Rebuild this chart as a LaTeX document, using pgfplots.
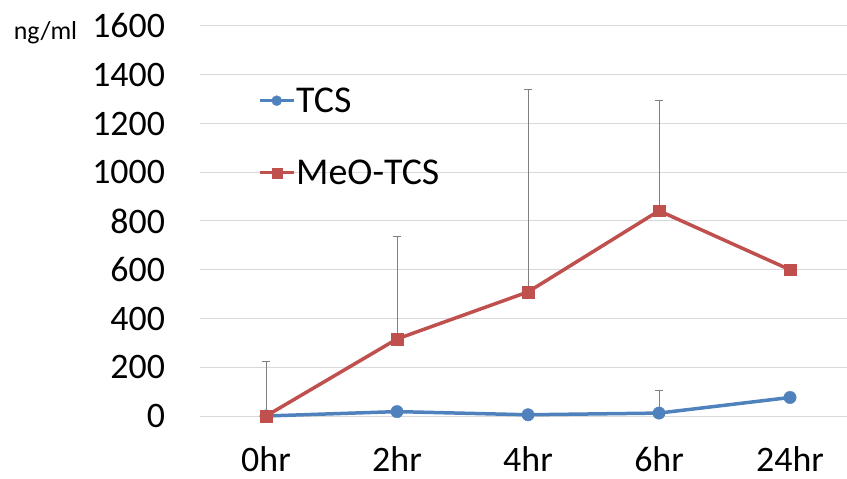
\documentclass[border=0pt]{standalone}
\usepackage{fontspec}
\setmainfont{Carlito}
\usepackage{pgfplots}
\usepackage{pgfplotstable}
\pgfplotsset{compat=1.18}
\definecolor{tcsblue}{HTML}{4F81BD}
\definecolor{meored}{HTML}{C0504D}
\pgfplotstableread{
x y ey
0 0 0
1 18 0
2 5 0
3 12 92
4 76 0
}\tcs
\pgfplotstableread{
x y ey
0 0 222
1 316 419
2 509 831
3 842 451
4 600 0
}\meo
\begin{document}
\begin{tikzpicture}
\useasboundingbox (-200.5bp,-63bp) rectangle (646.5bp,416bp);
\begin{axis}[
 at={(0,0)}, anchor=south west,
 scale only axis, width=646.5bp, height=390bp,
 xmin=-0.5, xmax=4.435, ymin=0, ymax=1600,
 xtick={0,...,4}, xticklabels={0hr,2hr,4hr,6hr,24hr},
 ytick={0,200,...,1600},
 ymajorgrids, grid style={color=black!15, line width=1bp},
 axis line style={draw=none}, major tick length=0pt,
 tick label style={font=\fontsize{36}{40}\selectfont},
 yticklabel style={xshift=-32bp},
 xticklabel style={yshift=-27bp},
 /pgf/number format/assume math mode=true,
 /pgf/number format/1000 sep={},
 clip=false,
 legend style={draw=none, fill=none, at={(rel axis cs:0.089,0.845)}, anchor=north west,
   font=\fontsize{38}{42}\selectfont, row sep=44bp, inner sep=0pt, nodes={inner sep=1bp}},
 legend cell align=left,
 legend image code/.code={\draw[mark repeat=2,mark phase=2,#1, line width=3bp, mark size=5bp] plot coordinates {(0bp,0bp) (17bp,0bp) (34bp,0bp)};},
 error bars/error bar style={color=gray, line width=1bp, solid},
]
\addplot[color=tcsblue, line width=3.5bp, mark=*, mark size=6.2bp, mark options={solid, fill=tcsblue, line width=0.4bp},
  error bars/.cd, y dir=plus, y explicit,
  error mark options={rotate=90, mark size=4bp, color=gray, line width=1bp}]
  table[x=x, y=y, y error=ey] {\tcs};
\addlegendentry{TCS}
\addplot[color=meored, line width=3.5bp, mark=square*, mark size=5.8bp, mark options={solid, fill=meored, line width=0.4bp},
  error bars/.cd, y dir=plus, y explicit,
  error mark options={rotate=90, mark size=4bp, color=gray, line width=1bp}]
  table[x=x, y=y, y error=ey] {\meo};
\addlegendentry{MeO-TCS}
\end{axis}
\node[font=\fontsize{26}{30}\selectfont] at (-155bp,383bp) {ng/ml};
\end{tikzpicture}
\end{document}
